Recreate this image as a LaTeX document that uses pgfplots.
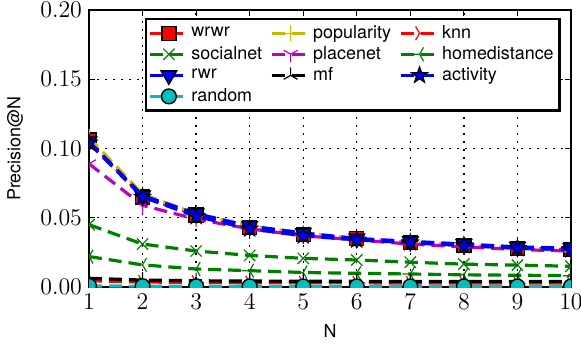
\documentclass[border=0pt]{standalone}
\usepackage{fontspec}
\setmainfont{TeX Gyre Heros}
\usepackage{pgfplots}
\pgfplotsset{compat=1.18}
\usetikzlibrary{plotmarks}
\definecolor{mr}{rgb}{1,0,0}
\definecolor{my}{rgb}{0.75,0.75,0}
\definecolor{mg}{rgb}{0,0.5,0}
\definecolor{mm}{rgb}{0.75,0,0.75}
\definecolor{mb}{rgb}{0,0,1}
\definecolor{mc}{rgb}{0,0.75,0.75}
\pgfdeclareplotmark{fstar}{%
 \pgfpathmoveto{\pgfpointpolar{90}{\pgfplotmarksize}}%
 \pgfpathlineto{\pgfpointpolar{126}{0.4\pgfplotmarksize}}%
 \pgfpathlineto{\pgfpointpolar{162}{\pgfplotmarksize}}%
 \pgfpathlineto{\pgfpointpolar{198}{0.4\pgfplotmarksize}}%
 \pgfpathlineto{\pgfpointpolar{234}{\pgfplotmarksize}}%
 \pgfpathlineto{\pgfpointpolar{270}{0.4\pgfplotmarksize}}%
 \pgfpathlineto{\pgfpointpolar{306}{\pgfplotmarksize}}%
 \pgfpathlineto{\pgfpointpolar{342}{0.4\pgfplotmarksize}}%
 \pgfpathlineto{\pgfpointpolar{18}{\pgfplotmarksize}}%
 \pgfpathlineto{\pgfpointpolar{54}{0.4\pgfplotmarksize}}%
 \pgfpathclose
 \pgfusepathqfillstroke}
\begin{document}
\begin{tikzpicture}
\begin{axis}[
  scale only axis,
  width=241bp, height=138.5bp,
  xmin=1, xmax=10, ymin=0, ymax=0.2,
  xtick={1,2,...,10},
  ytick={0,0.05,0.10,0.15,0.20},
  scaled y ticks=false,
  clip marker paths=true,
  yticklabel style={/pgf/number format/fixed,/pgf/number format/fixed zerofill,/pgf/number format/precision=2},
  tick label style={font=\fontsize{11.5}{13}\selectfont},
  tick align=inside,
  major tick length=3bp,
  every tick/.style={black, line width=0.5bp},
  axis line style={line width=1.2bp},
  grid=major,
  major grid style={black, line width=0.7bp, dash pattern=on 0.9bp off 3.1bp},
  xlabel={N}, ylabel={Precision@N},
  label style={font=\fontsize{9}{10}\selectfont},
  xlabel style={at={(axis description cs:0.5,-0.159)}, anchor=center},
  ylabel style={at={(axis description cs:-0.1535,0.5)}, anchor=center, rotate=0},
  every axis plot/.append style={line width=1.6bp, dash pattern=on 6.5bp off 3.5bp},
  legend columns=3,
  legend style={at={(axis description cs:0.979,0.971)}, anchor=north east,
    font=\fontsize{9}{10}\selectfont, line width=1.2bp, draw=black,
    inner sep=1bp, row sep=-1.5bp,
    /tikz/every even column/.append style={column sep=2bp},
    /tikz/every odd column/.append style={column sep=-1bp}},
  legend cell align=left,
  legend image code/.code={\draw[mark repeat=2,mark phase=2] plot coordinates {(0bp,0bp)(9.5bp,0bp)(19bp,0bp)};},
]
\addplot[mr, mark=square*, mark size=3.5bp, mark options={solid, fill=mr, draw=black, line width=0.7bp}] coordinates {
(1,0.106)(2,0.065)(3,0.052)(4,0.043)(5,0.038)(6,0.035)(7,0.032)(8,0.030)(9,0.028)(10,0.027)};
\addlegendentry{wrwr}
\addplot[my, mark=+, mark size=4bp, mark options={solid, line width=0.6bp}] coordinates {
(1,0.108)(2,0.067)(3,0.053)(4,0.044)(5,0.039)(6,0.035)(7,0.032)(8,0.030)(9,0.028)(10,0.026)};
\addlegendentry{popularity}
\addplot[mr, mark=Mercedes star, mark size=4bp, mark options={solid, line width=0.6bp, rotate=-90}] coordinates {
(1,0.0046)(2,0.0036)(3,0.0033)(4,0.0031)(5,0.0030)(6,0.0030)(7,0.0029)(8,0.0029)(9,0.0029)(10,0.0029)};
\addlegendentry{knn}
\addplot[mg, mark=x, mark size=4bp, mark options={solid, line width=0.6bp}] coordinates {
(1,0.045)(2,0.031)(3,0.026)(4,0.0228)(5,0.0207)(6,0.0195)(7,0.0179)(8,0.0165)(9,0.0158)(10,0.015)};
\addlegendentry{socialnet}
\addplot[mm, mark=Mercedes star flipped, mark size=4bp, mark options={solid, line width=0.6bp}] coordinates {
(1,0.089)(2,0.059)(3,0.049)(4,0.042)(5,0.037)(6,0.034)(7,0.031)(8,0.029)(9,0.027)(10,0.026)};
\addlegendentry{placenet}
\addplot[mg, mark=Mercedes star, mark size=4bp, mark options={solid, line width=0.6bp, rotate=90}] coordinates {
(1,0.022)(2,0.016)(3,0.013)(4,0.0118)(5,0.0105)(6,0.0099)(7,0.0094)(8,0.0088)(9,0.0085)(10,0.0082)};
\addlegendentry{homedistance}
\addplot[mb, mark=triangle*, mark size=4.5bp, mark options={solid, fill=mb, draw=black, line width=0.7bp, rotate=180}] coordinates {
(1,0.105)(2,0.066)(3,0.053)(4,0.044)(5,0.039)(6,0.035)(7,0.033)(8,0.031)(9,0.029)(10,0.028)};
\addlegendentry{rwr}
\addplot[black, mark=Mercedes star, mark size=4bp, mark options={solid, line width=0.6bp}] coordinates {
(1,0.0063)(2,0.0050)(3,0.0045)(4,0.0043)(5,0.0042)(6,0.0041)(7,0.0040)(8,0.0040)(9,0.0040)(10,0.0040)};
\addlegendentry{mf}
\addplot[mb, mark=fstar, mark size=4.2bp, mark options={solid, fill=mb, draw=black, line width=0.6bp}] coordinates {
(1,0.104)(2,0.065)(3,0.051)(4,0.042)(5,0.037)(6,0.034)(7,0.032)(8,0.030)(9,0.028)(10,0.027)};
\addlegendentry{activity}
\addplot[mc, mark=*, mark size=3.7bp, mark options={solid, fill=mc, draw=black, line width=0.7bp}] coordinates {
(1,0.0008)(2,0.0006)(3,0.0005)(4,0.0005)(5,0.0004)(6,0.0004)(7,0.0004)(8,0.0004)(9,0.0004)(10,0.0004)};
\addlegendentry{random}
\end{axis}
\pgfresetboundingbox
\useasboundingbox ([xshift=-44.5bp,yshift=-30bp]current axis.south west) rectangle ([xshift=5bp,yshift=5bp]current axis.north east);
\end{tikzpicture}
\end{document}
